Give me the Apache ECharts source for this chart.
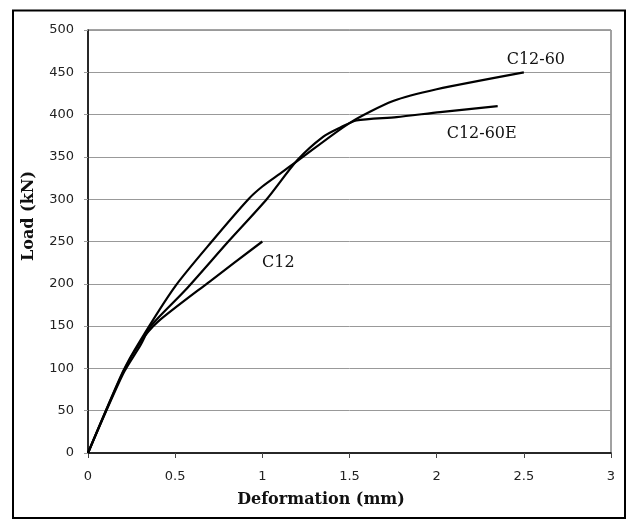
<!DOCTYPE html>
<html>
<head>
<meta charset="utf-8">
<script src="https://cdn.jsdelivr.net/npm/echarts@6/dist/echarts.min.js"></script>
<style>
  html, body { margin: 0; padding: 0; background: #fff; }
  #chart { width: 628px; height: 520px; }
</style>
</head>
<body>
<div id="chart"></div>
<script>
// data (deformation in mm, load in kN)
const c12Def = [0, 0.2, 0.3, 0.4, 0.7, 1.0]
const c12Load = [0, 95, 131, 155, 203, 250]

const c1260Def = [0, 0.2, 0.3, 0.5, 0.71, 0.92, 1.0, 1.1, 1.2, 1.5, 1.75, 2.0, 2.5]
const c1260Load = [0, 96, 133, 197, 250, 300, 315, 330, 345, 390, 416, 430, 450]

const c1260EDef = [0, 0.2, 0.3, 0.36, 0.556, 0.805, 1.025, 1.2, 1.35, 1.45, 1.54, 1.77, 2.02, 2.35]
const c1260ELoad = [0, 93, 127, 150, 192, 250, 300, 346, 374, 385, 393, 397, 403, 410]

const xTicks = { min: 0, max: 3, step: 0.5 }
const yTicks = { min: 0, max: 500, step: 50 }

function pairs(xs, ys) {
  return xs.map((x, i) => [x, ys[i]])
}

const serifFont = '"DejaVu Serif", "Liberation Serif", serif'
const sansFont = '"DejaVu Sans", Verdana, sans-serif'

let myChart = echarts.init(document.getElementById('chart'))

function curve(name, data, offset) {
  return {
    name: name,
    type: 'line',
    data: data,
    showSymbol: false,
    smooth: 0.25,
    lineStyle: { color: '#000', width: 2.2 },
    endLabel: {
      show: true,
      formatter: name,
      distance: 0,
      align: 'center',
      verticalAlign: 'middle',
      offset: offset,
      fontFamily: serifFont,
      fontSize: 16,
      color: '#111'
    }
  }
}

let option = {
  animation: false,
  backgroundColor: '#fff',
  grid: {
    left: 88,
    top: 30,
    right: 17,
    bottom: 67,
    show: true,
    borderColor: '#444',
    borderWidth: 1
  },
  xAxis: {
    type: 'value',
    min: xTicks.min,
    max: xTicks.max,
    interval: xTicks.step,
    axisLine: { lineStyle: { color: '#000', width: 1.5 } },
    axisTick: { show: true, length: 5, lineStyle: { color: '#444' } },
    splitLine: { show: false },
    axisLabel: { margin: 17, fontFamily: sansFont, fontSize: 13, color: '#222' }
  },
  yAxis: {
    type: 'value',
    min: yTicks.min,
    max: yTicks.max,
    interval: yTicks.step,
    axisLine: { show: true, lineStyle: { color: '#000', width: 1.5 } },
    axisTick: { show: true, length: 4, lineStyle: { color: '#999' } },
    splitLine: { lineStyle: { color: '#999', width: 1 } },
    axisLabel: { margin: 14, fontFamily: sansFont, fontSize: 13, color: '#222' }
  },
  series: [
    curve('C12', pairs(c12Def, c12Load), [16, 21]),
    curve('C12-60', pairs(c1260Def, c1260Load), [12, -12]),
    curve('C12-60E', pairs(c1260EDef, c1260ELoad), [-16, 28])
  ],
  graphic: [
    {
      // outer frame of the figure
      type: 'rect',
      shape: { x: 13, y: 10.5, width: 612, height: 507.5 },
      style: { fill: 'none', stroke: '#000', lineWidth: 2 },
      silent: true
    },
    {
      type: 'text',
      x: 29,
      y: 216,
      rotation: Math.PI / 2,
      style: {
        text: 'Load (kN)',
        font: 'bold 16px ' + serifFont,
        fill: '#111',
        align: 'center',
        verticalAlign: 'middle'
      }
    },
    {
      type: 'text',
      x: 321,
      y: 500,
      style: {
        text: 'Deformation (mm)',
        font: 'bold 16px ' + serifFont,
        fill: '#111',
        align: 'center',
        verticalAlign: 'middle'
      }
    }
  ]
}

myChart.setOption(option)
</script>
</body>
</html>
